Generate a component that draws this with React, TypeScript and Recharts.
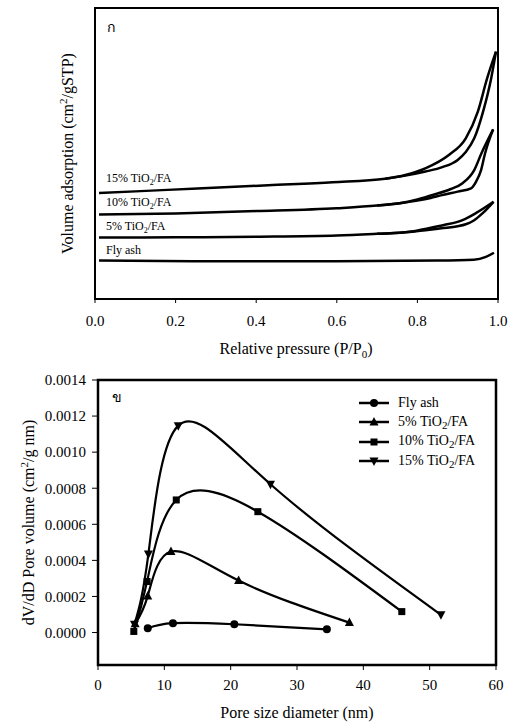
import React from 'react';
import {
  LineChart,
  Line,
  XAxis,
  YAxis,
  ReferenceArea,
  Legend,
} from 'recharts';

// ---- (ก) N2 adsorption-desorption isotherms (arbitrary volume units) ----
const flyAshP = [0.01, 0.3, 0.6, 0.85, 0.94, 0.97, 0.99];
const flyAshV = [13.2, 13.0, 13.0, 13.2, 13.5, 14.5, 15.9];

const ti5AdsP = [0.01, 0.2, 0.4, 0.6, 0.7, 0.78, 0.82, 0.86, 0.9, 0.92, 0.94, 0.962, 0.989];
const ti5AdsV = [21.1, 21.2, 21.4, 21.8, 22.4, 23.0, 23.6, 24.3, 25.0, 25.7, 27.0, 29.5, 33.4];
const ti5DesP = [0.7, 0.78, 0.816, 0.866, 0.912, 0.945, 0.989];
const ti5DesV = [22.4, 23.1, 24.0, 25.4, 27.1, 29.5, 33.4];

const ti10AdsP = [0.01, 0.2, 0.4, 0.6, 0.7, 0.76, 0.8, 0.833, 0.858, 0.9, 0.933, 0.945, 0.958, 0.968, 0.988];
const ti10AdsV = [29.0, 29.4, 30.2, 31.2, 32.1, 33.0, 33.8, 34.7, 35.6, 36.9, 38.0, 40.2, 44.3, 50.1, 58.3];
const ti10DesP = [0.7, 0.76, 0.8, 0.842, 0.883, 0.912, 0.941, 0.959, 0.988];
const ti10DesV = [32.1, 33.0, 34.2, 35.9, 37.8, 39.8, 44.3, 50.1, 58.3];

const ti15AdsP = [0.01, 0.18, 0.43, 0.59, 0.72, 0.77, 0.82, 0.862, 0.9, 0.92, 0.941, 0.963, 0.983, 0.995];
const ti15AdsV = [36.4, 37.5, 39.1, 40.1, 41.3, 42.4, 43.8, 45.3, 47.8, 50.5, 55.2, 64.4, 75.8, 85.0];
const ti15DesP = [0.72, 0.77, 0.821, 0.878, 0.92, 0.95, 0.973, 0.995];
const ti15DesV = [41.3, 42.6, 45.0, 49.5, 55.2, 64.4, 75.8, 85.0];

const pressureTicks = [0, 0.2, 0.4, 0.6, 0.8, 1.0];

// ---- (ข) pore size distribution ----
const flyAshD = [7.5, 11.3, 20.55, 34.5];
const flyAshDv = [0.000024, 0.000052, 0.000046, 0.000018];
const ti5D = [5.6, 7.5, 11.0, 21.2, 37.9];
const ti5Dv = [0.000048, 0.000203, 0.000449, 0.000288, 0.000055];
const ti10D = [5.4, 7.4, 11.8, 24.1, 45.8];
const ti10Dv = [0.000006, 0.000283, 0.000735, 0.00067, 0.000116];
const ti15D = [5.5, 7.6, 12.1, 26.0, 51.7];
const ti15Dv = [0.000046, 0.000436, 0.001147, 0.000822, 0.000098];

const diameterTicks = [0, 10, 20, 30, 40, 50, 60];
const poreTicks = [0, 0.0002, 0.0004, 0.0006, 0.0008, 0.001, 0.0012, 0.0014];

const toRows = (xs: number[], ys: number[]) => xs.map((x, i) => ({ x, v: ys[i] }));

const FONT = '"Liberation Serif", "Times New Roman", Times, "DejaVu Serif", "Noto Serif", serif';
const tickStyle = { fill: '#000', fontSize: 15, fontFamily: FONT };

type Shape = 'circle' | 'up' | 'square' | 'down';

const Marker = ({ cx, cy, shape }: { cx: number; cy: number; shape: Shape }) => {
  if (cx == null || cy == null) return null;
  if (shape === 'circle') return <circle cx={cx} cy={cy} r={4} fill="#000" />;
  if (shape === 'square') return <rect x={cx - 3.5} y={cy - 3.5} width={7} height={7} fill="#000" />;
  if (shape === 'up')
    return <polygon points={`${cx},${cy - 5} ${cx + 4.5},${cy + 3.5} ${cx - 4.5},${cy + 3.5}`} fill="#000" />;
  return <polygon points={`${cx},${cy + 5} ${cx + 4.5},${cy - 3.5} ${cx - 4.5},${cy - 3.5}`} fill="#000" />;
};

const poreSeries: { name: string; sub: boolean; prefix: string; shape: Shape; rows: any[] }[] = [
  { name: 'Fly ash', sub: false, prefix: 'Fly ash', shape: 'circle', rows: toRows(flyAshD, flyAshDv) },
  { name: '5% TiO2/FA', sub: true, prefix: '5% TiO', shape: 'up', rows: toRows(ti5D, ti5Dv) },
  { name: '10% TiO2/FA', sub: true, prefix: '10% TiO', shape: 'square', rows: toRows(ti10D, ti10Dv) },
  { name: '15% TiO2/FA', sub: true, prefix: '15% TiO', shape: 'down', rows: toRows(ti15D, ti15Dv) },
];

const isoBranches = [
  toRows(flyAshP, flyAshV),
  toRows(ti5AdsP, ti5AdsV),
  toRows(ti5DesP, ti5DesV),
  toRows(ti10AdsP, ti10AdsV),
  toRows(ti10DesP, ti10DesV),
  toRows(ti15AdsP, ti15AdsV),
  toRows(ti15DesP, ti15DesV),
];

const curveLabels = [
  { prefix: '15% TiO', y: 182 },
  { prefix: '10% TiO', y: 206 },
  { prefix: '5% TiO', y: 230 },
  { prefix: 'Fly ash', y: 253.5, plain: true },
];

const PoreLegend = () => (
  <div style={{ fontFamily: FONT, fontSize: 14, color: '#000' }}>
    {poreSeries.map((s) => (
      <div key={s.name} style={{ display: 'flex', alignItems: 'center', height: 19.3 }}>
        <svg width={30} height={12} style={{ marginRight: 9 }}>
          <line x1={0} x2={30} y1={6} y2={6} stroke="#000" strokeWidth={2.5} />
          <Marker cx={15} cy={6} shape={s.shape} />
        </svg>
        <span>
          {s.prefix}
          {s.sub && (
            <>
              <sub style={{ fontSize: 11, verticalAlign: '-3px' }}>2</sub>/FA
            </>
          )}
        </span>
      </div>
    ))}
  </div>
);

export default function App() {
  return (
    <div
      style={{
        position: 'absolute',
        left: 0,
        top: 0,
        width: 508,
        height: 722,
        background: '#fff',
        fontFamily: FONT,
      }}
    >
      {/* top panel */}
      <div style={{ position: 'relative', width: 508, height: 360 }}>
        <LineChart width={508} height={360} margin={{ top: 8, right: 10, left: 95, bottom: 31 }}>
          <XAxis
            dataKey="x"
            type="number"
            domain={[0, 1]}
            ticks={pressureTicks}
            tickFormatter={(v: number) => v.toFixed(1)}
            allowDataOverflow
            height={30}
            tick={tickStyle}
            tickSize={4}
            tickMargin={12}
            axisLine={{ stroke: '#000', strokeWidth: 2 }}
            tickLine={{ stroke: '#000' }}
          />
          <YAxis hide type="number" domain={[0, 100]} allowDataOverflow />
          <ReferenceArea x1={0} x2={1} y1={0} y2={100} fill="none" stroke="#000" strokeWidth={2} />
          {isoBranches.map((rows, i) => (
            <Line
              key={i}
              data={rows}
              dataKey="v"
              type="monotone"
              stroke="#000"
              strokeWidth={2.5}
              dot={false}
              activeDot={false}
              isAnimationActive={false}
            />
          ))}
        </LineChart>
        <svg
          width={508}
          height={360}
          style={{ position: 'absolute', left: 0, top: 0, pointerEvents: 'none', fontFamily: FONT }}
        >
          <text x={107} y={32} fontSize={14} fill="#000">ก</text>
          {curveLabels.map((l) => (
            <text key={l.prefix} x={106} y={l.y} fontSize={12} fill="#000">
              {l.prefix}
              {!l.plain && (
                <>
                  <tspan dy={3} fontSize={8}>2</tspan>
                  <tspan dy={-3}>/FA</tspan>
                </>
              )}
            </text>
          ))}
          <text x={296} y={354} fontSize={16} textAnchor="middle" fill="#000">
            Relative pressure (P/P<tspan dy={4} fontSize={11}>0</tspan>
            <tspan dy={-4}>)</tspan>
          </text>
          <text transform="translate(72.5,153.5) rotate(-90)" fontSize={16} textAnchor="middle" fill="#000">
            Volume adsorption (cm<tspan dy={-6} fontSize={11}>2</tspan>
            <tspan dy={6}>/gSTP)</tspan>
          </text>
        </svg>
      </div>

      {/* bottom panel */}
      <div style={{ position: 'relative', width: 508, height: 362 }}>
        <LineChart width={508} height={362} margin={{ top: 20, right: 12, left: 0, bottom: 27 }}>
          <XAxis
            dataKey="x"
            type="number"
            domain={[0, 60]}
            ticks={diameterTicks}
            allowDataOverflow
            height={30}
            tick={tickStyle}
            tickSize={5}
            tickMargin={9}
            axisLine={{ stroke: '#000', strokeWidth: 2 }}
            tickLine={{ stroke: '#000' }}
          />
          <YAxis
            type="number"
            domain={[-0.00018, 0.0014]}
            ticks={poreTicks}
            tickFormatter={(v: number) => v.toFixed(4)}
            allowDataOverflow
            width={98}
            tick={tickStyle}
            tickSize={6}
            tickMargin={6}
            axisLine={{ stroke: '#000', strokeWidth: 2 }}
            tickLine={{ stroke: '#000' }}
          />
          <ReferenceArea x1={0} x2={60} y1={-0.00018} y2={0.0014} fill="none" stroke="#000" strokeWidth={2.5} />
          {poreSeries.map((s) => (
            <Line
              key={s.name}
              name={s.name}
              data={s.rows}
              dataKey="v"
              type="natural"
              stroke="#000"
              strokeWidth={2.2}
              dot={(p: any) => <Marker key={`${s.name}-${p.index}`} cx={p.cx} cy={p.cy} shape={s.shape} />}
              activeDot={false}
              isAnimationActive={false}
            />
          ))}
          <Legend
            layout="vertical"
            align="center"
            verticalAlign="middle"
            content={() => <PoreLegend />}
            wrapperStyle={{ left: 359, top: 33.5, width: 'auto', height: 'auto' }}
          />
        </LineChart>
        <svg
          width={508}
          height={362}
          style={{ position: 'absolute', left: 0, top: 0, pointerEvents: 'none', fontFamily: FONT }}
        >
          <text x={112} y={42} fontSize={14} fill="#000">ข</text>
          <text x={297} y={358} fontSize={16} textAnchor="middle" fill="#000">
            Pore size diameter (nm)
          </text>
          <text transform="translate(33.5,162.5) rotate(-90)" fontSize={16} textAnchor="middle" fill="#000">
            dV/dD Pore volume (cm<tspan dy={-6} fontSize={11}>2</tspan>
            <tspan dy={6}>/g nm)</tspan>
          </text>
        </svg>
      </div>
    </div>
  );
}
